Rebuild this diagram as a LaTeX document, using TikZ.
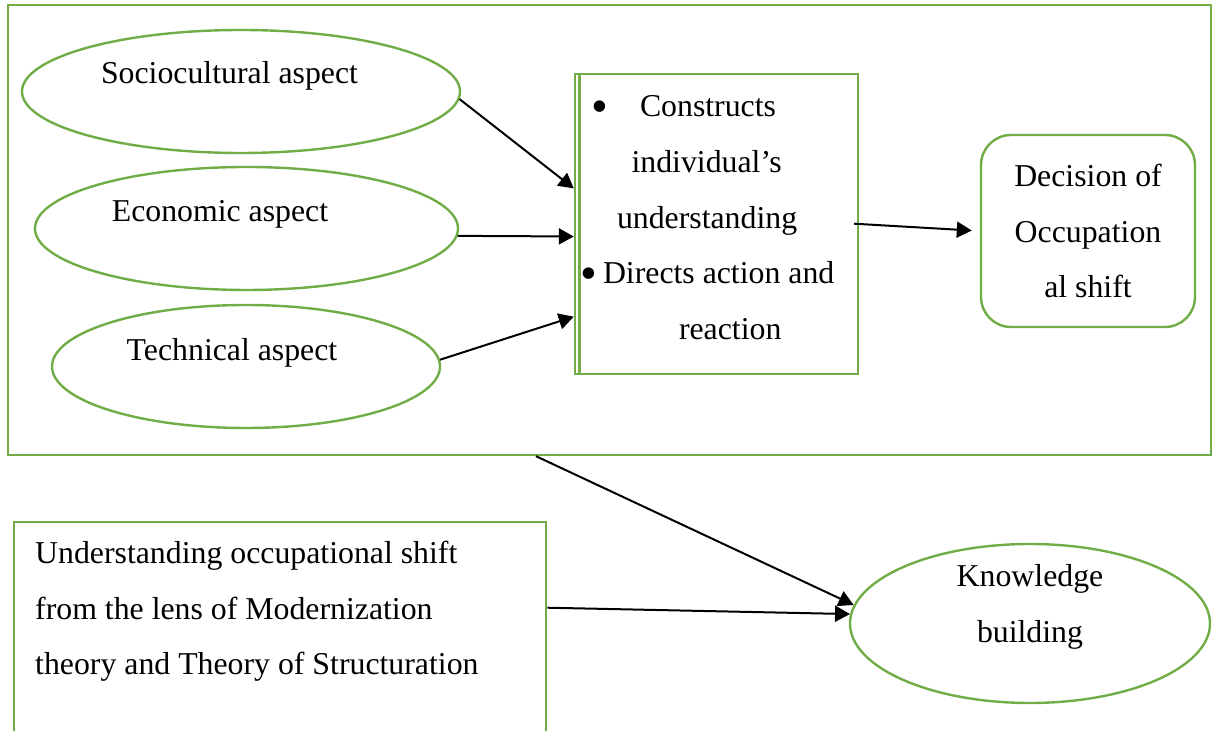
\documentclass[tikz,border=0pt]{standalone}
\usepackage{fontspec}
\setmainfont{Liberation Serif}
\usetikzlibrary{arrows.meta, shapes.geometric, calc}
\definecolor{leafgreen}{HTML}{70AD47}
\newcommand{\bigbullet}{\raisebox{-3pt}{\fontsize{24}{24}\selectfont\textbullet}}

\begin{document}
\begin{tikzpicture}[
        x=0.5pt, y=-0.5pt,
        font=\fontsize{15.9}{27.8}\selectfont,
        frame/.style={rectangle, draw=leafgreen, line width=1.2pt, minimum width=601.5pt, minimum height=225pt, inner sep=0pt},
        aspect/.style={ellipse, draw=leafgreen, line width=1.2pt, minimum height=61.5pt, inner sep=0pt},
        role/.style={rectangle, draw=leafgreen, line width=1.2pt, minimum width=141.5pt, minimum height=150pt, inner sep=0pt},
        decision/.style={rectangle, rounded corners=15pt, draw=leafgreen, line width=1.2pt, minimum width=107pt, minimum height=96pt, align=center},
        theory/.style={rectangle, draw=leafgreen, line width=1.2pt, inner xsep=10.5pt, inner ysep=9.5pt, text width=245pt, align=flush left},
        arrow/.style={-{Triangle[length=7.5pt, width=8pt]}, line width=1pt}
    ]
        \useasboundingbox (0,0) rectangle (1217,731);

        % Outer frame
        \node[frame] (frame) at (609.5,230) {};

        % Aspects
        \node[aspect, minimum width=219pt, label={[xshift=-5.75pt, yshift=7.75pt]center:Sociocultural aspect}] (soc) at (241,91.5) {};
        \node[aspect, minimum width=211.5pt, label={[xshift=-13.25pt, yshift=7.25pt]center:Economic aspect}] (econ) at (246.5,228.5) {};
        \node[aspect, minimum width=194pt, label={[xshift=-7pt, yshift=6.75pt]center:Technical aspect}] (tech) at (246,366.5) {};

        % Structuration box
        \node[role, label={[text width=141.5pt, inner sep=0pt, align=flush left, yshift=3.15pt]center:{\makebox[32.5pt][l]{\hspace*{8pt}\bigbullet}Constructs\\\hspace*{28.3pt}individual’s\\\hspace*{21pt}understanding\\\makebox[14pt][l]{\hspace*{2.8pt}\bigbullet}Directs action and\\\hspace*{52pt}reaction}}] (box) at (716.5,224) {};
        \draw[leafgreen, line width=1.2pt] ([xshift=2.75pt]box.north west) -- ([xshift=2.75pt]box.south west);

        % Decision
        \node[decision] (dec) at (1088,231) {Decision of\\Occupation\\al shift};

        % Theory and knowledge
        \node[theory, anchor=north west] (theory) at (13,521) {Understanding occupational shift\\from the lens of Modernization\\theory and Theory of Structuration\\\mbox{}};
        \node[aspect, minimum width=180pt, minimum height=79.5pt, label={[align=center, yshift=8.25pt]center:{Knowledge\\building}}] (know) at (1030,623.5) {};

        % Connections
        \draw[arrow] (soc.358) -- (box.166);
        \draw[arrow] (econ.358) -- (box.185);
        \draw[arrow] (tech.2) -- (box.213);
        \draw[arrow, shorten <=-2.5pt, shorten >=4pt] (box.east) -- (dec.west);
        \draw[arrow] (frame.252) -- (know.174);
        \draw[arrow] (theory.6) -- (know.177);
    \end{tikzpicture}
\end{document}
